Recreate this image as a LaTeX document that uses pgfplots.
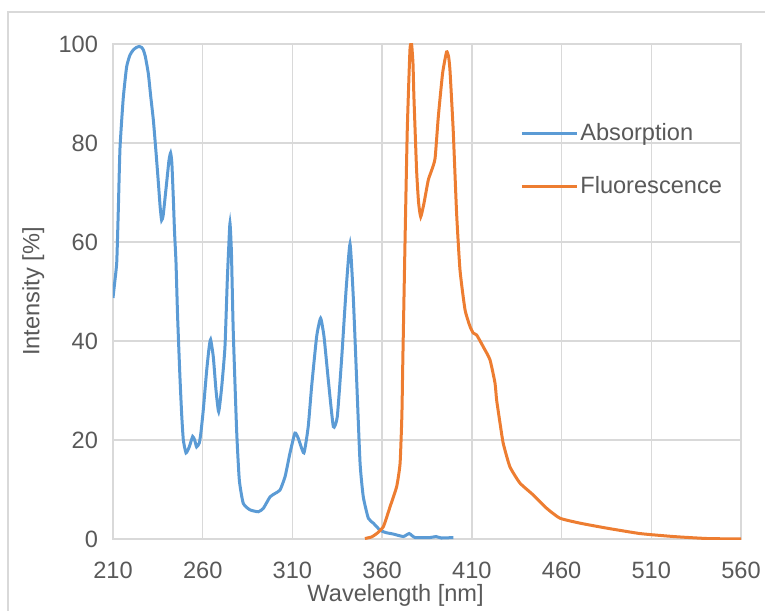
\documentclass[border=0pt]{standalone}
\usepackage{pgfplots}
\pgfplotsset{compat=1.18}
\usepackage{fontspec}
\setmainfont{Liberation Sans}
\definecolor{absblue}{HTML}{5B9BD5}
\definecolor{fluoorange}{HTML}{ED7D31}
\definecolor{gridgray}{HTML}{D9D9D9}
\definecolor{textgray}{HTML}{595959}

\begin{document}
\begin{tikzpicture}
% page = 765 x 610 px at 0.5pt per px, axis box SW corner at (0,0)
\useasboundingbox (-56.5pt,-35.5pt) rectangle (326pt,269.5pt);
\draw[gridgray, line width=0.75pt] (-52.5pt,-40pt) -- (-52.5pt,263.5pt) -- (330pt,263.5pt);
\begin{axis}[
  scale only axis,
  width=314pt, height=247.5pt,
  xmin=210, xmax=560, ymin=0, ymax=100,
  xtick={210,260,...,560}, ytick={0,20,...,100},
  grid=major, grid style={gridgray, line width=0.75pt},
  axis line style={gridgray, line width=0.75pt},
  major tick length=0pt,
  tick label style={font=\fontsize{11.8}{14}\selectfont, text=textgray},
  /pgf/number format/assume math mode=true,
  /pgf/number format/1000 sep={},
  xticklabel style={yshift=-8pt},
  yticklabel style={xshift=-4pt},
  label style={font=\fontsize{11.8}{14}\selectfont, text=textgray},
  xlabel={Wavelength [nm]},
  ylabel={Intensity [\%]},
  xlabel style={at={(axis description cs:0.45,-0.113)}, anchor=center},
  ylabel style={at={(axis description cs:-0.127,0.5)}, anchor=center},
  legend cell align=left,
  legend style={at={(axis description cs:0.648,0.844)}, anchor=north west,
    draw=none, fill=none, inner sep=0pt, row sep=14.5pt,
    font=\fontsize{11.8}{14}\selectfont, text=textgray,
    nodes={inner sep=1pt}},
  legend image code/.code={\draw[#1] (0pt,0pt) -- (27.5pt,0pt);},
]
\addplot[color=absblue, line width=1.5pt, smooth, tension=0.3] coordinates {
(210,48.7) (211,52) (212.1,56) (213,67) (213.9,79) (215.7,89) (217.6,95.4)
(219.5,97.8) (221.3,98.8) (223,99.3) (224.7,99.5) (226,99.3) (226.9,98.8)
(228,97.5) (229.7,94) (231,89.5) (232.5,84.6) (234,78) (235.3,71.9) (236.3,67)
(237.1,64.4) (238,65.5) (239.9,72) (241.2,76.5) (242.1,78) (242.8,76) (243.6,69)
(244.3,62) (245.1,56) (246,45) (247.3,32.8) (248.3,25) (249.2,20) (250.7,17.4)
(252.5,18.6) (254.4,20.7) (255.5,20) (256.6,18.6) (258.1,19.4) (259,21.5)
(260.3,26) (262.2,34) (263.5,38.5) (264.4,40.3) (265.9,36.8) (267.4,30.1)
(268.9,25.7) (270.6,30.8) (272.4,38.8) (273.7,52.3) (274.5,59) (275.2,63.8)
(276,58) (277,42.2) (278.9,22) (280.4,11.9) (282.6,7.2) (286.3,5.9) (291,5.5)
(293.8,6.2) (297.5,8.5) (300.3,9.2) (303.1,9.9) (305.9,12.6) (308.6,17.3)
(311.4,21.4) (313.3,20.3) (316.4,17.4) (318.8,22.7) (320.7,30.8) (323.5,40.9)
(325.7,44.6) (327.6,40.9) (330,32.1) (332.8,22.7) (335,24.7) (337.5,36.8)
(339.9,50.3) (342.1,59.6) (343.9,49) (345.8,32.1) (347.7,15.3) (349.5,8.5)
(352.3,4.2) (355.1,3.2) (358.8,1.8) (362,1.3) (366.2,1.0) (371.8,0.5)
(375.1,1.1) (378.3,0.3) (386.7,0.3) (390,0.5) (393,0.2) (399.7,0.3)
};
\addlegendentry{Absorption}
\addplot[color=fluoorange, line width=1.5pt, smooth, tension=0.3] coordinates {
(350.4,0.1) (354,0.4) (357,1.1) (360.7,2.5) (364.4,6.5) (368.1,10.6) (370,15.3)
(371,25) (371.5,35.5) (372.7,59) (374,82.6) (375.5,98.8) (376.4,100) (377.2,96)
(377.7,89.4) (379.2,74.5) (380.3,68) (381.5,65.1) (383.3,67.8) (385.7,72.5)
(387.6,74.5) (389.5,76.9) (391.3,85.3) (393.7,94.1) (395.9,98.4) (397,97.5)
(397.8,94.7) (399.6,82.6) (401.5,65.8) (403.4,54.3) (406.2,46.3) (409,42.9)
(410.8,41.6) (412.7,41.2) (416.4,38.8) (420.1,36.2) (422.9,31.5) (423.8,28.1)
(425.7,23.4) (427.5,19.3) (431.2,14.6) (436.8,11.3) (444.2,8.9) (451.7,6.2)
(459.1,4.2) (470.3,3.2) (485.1,2.2) (503.7,1.1) (522.3,0.5) (540.9,0.1) (560,0)
};
\addlegendentry{Fluorescence}
\end{axis}
\end{tikzpicture}
\end{document}
